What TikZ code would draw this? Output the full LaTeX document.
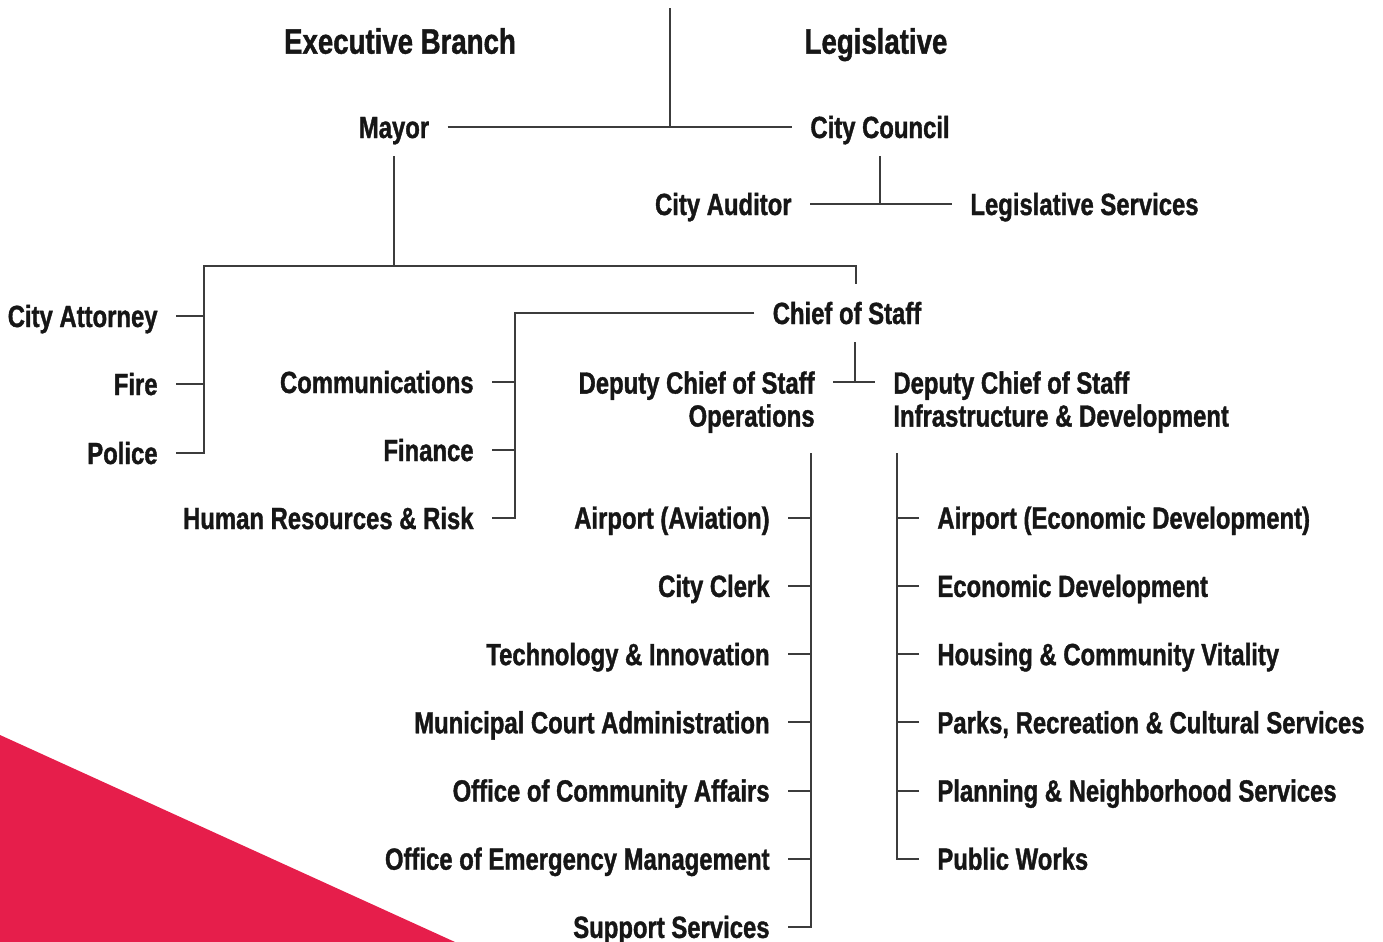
\documentclass[tikz,border=0pt]{standalone}
\usepackage{fontspec}
\setmainfont{Liberation Sans}[FakeStretch=0.78, BoldFeatures={FakeBold=1.2}]
\definecolor{ink}{HTML}{161616}
\definecolor{wire}{HTML}{3C3C3C}
\definecolor{brand}{HTML}{E61E4B}
\begin{document}
\begin{tikzpicture}[x=0.5pt, y=-0.5pt, line join=miter,
	unit/.style={font=\fontsize{15.3}{16.5}\selectfont\bfseries, text=ink, inner xsep=9pt, inner ysep=9pt, text height=11pt, text depth=0pt},
	head/.style={unit, font=\fontsize{17.7}{20}\selectfont\bfseries, text height=12.7pt},
	lft/.style={unit, anchor=east}, rgt/.style={unit, anchor=west},
	dep/.style={font=\fontsize{15.3}{16.5}\selectfont\bfseries, text=ink, inner xsep=9pt, inner ysep=9pt},
	link/.style={draw=wire, line width=1pt}]
	\useasboundingbox (0,0) rectangle (1383,942);
	\fill[brand] (0,735) -- (455,942) -- (0,942) -- cycle;
	% branches
	\node[head] (exec) at (400,41) {Executive Branch};
	\node[head] (leg) at (876,41) {Legislative};
	\node[unit] (mayor) at (394,127) {Mayor};
	\node[rgt] (council) at (792,127) {City Council};
	\coordinate (top) at (670,8);
	\draw[link] (mayor) -- (council);
	\draw[link] (top) -- (top |- council);
	\node[lft] (auditor) at (810,204) {City Auditor};
	\node[rgt] (legserv) at (952,204) {Legislative Services};
	\draw[link] (auditor) -- (legserv);
	\draw[link] (council.south) -- (council.south |- legserv);
	% mayor's offices
	\coordinate (lb) at (204,266); \coordinate (rb) at (856,266);
	\node[lft] (attorney) at (176,316) {City Attorney};
	\node[lft] (fire) at (176,384) {Fire};
	\node[lft] (police) at (176,453) {Police};
	\node[unit] (chief) at (847,313) {Chief of Staff};
	\draw[link] (mayor.south) -- (mayor.south |- lb);
	\draw[link] (police) -- (police -| lb) -- (lb) -- (rb) -- (rb |- chief.north);
	\draw[link] (attorney) -- (attorney -| lb);
	\draw[link] (fire) -- (fire -| lb);
	% chief of staff
	\coordinate (mb) at (515,313);
	\node[lft] (comms) at (492,382) {Communications};
	\node[lft] (finance) at (492,450) {Finance};
	\node[lft] (hr) at (492,518) {Human Resources \& Risk};
	\draw[link] (chief) -- (chief -| mb) -- (mb |- hr) -- (hr);
	\draw[link] (comms) -- (comms -| mb);
	\draw[link] (finance) -- (finance -| mb);
	\coordinate (cj) at (855,382);
	\node[dep, align=right, anchor=north east] (opsdep) at (833,353) {Deputy Chief of Staff\\Operations};
	\node[dep, align=left, anchor=north west] (infdep) at (875,353) {Deputy Chief of Staff\\Infrastructure \& Development};
	\draw[link] (cj |- chief.south) -- (cj);
	\draw[link] (opsdep.east |- cj) -- (infdep.west |- cj);
	% operations
	\coordinate (ob) at (811,453); \coordinate (ib) at (897,453);
	\foreach \txt [count=\i] in {Airport (Aviation), City Clerk, Technology \& Innovation, Municipal Court Administration, Office of Community Affairs, Office of Emergency Management, Support Services}
		\node[lft] (ops\i) at (788,449.5+68.2*\i) {\txt};
	\foreach \i in {1,...,6}
		\draw[link] (ops\i) -- (ops\i -| ob);
	\draw[link] (ob) -- (ob |- ops7) -- (ops7);
	% infrastructure & development
	\foreach \txt [count=\i] in {Airport (Economic Development), Economic Development, Housing \& Community Vitality, {Parks, Recreation \& Cultural Services}, Planning \& Neighborhood Services, Public Works}
		\node[rgt] (inf\i) at (919,449.5+68.2*\i) {\txt};
	\foreach \i in {1,...,5}
		\draw[link] (inf\i) -- (inf\i -| ib);
	\draw[link] (ib) -- (ib |- inf6) -- (inf6);
\end{tikzpicture}
\end{document}
